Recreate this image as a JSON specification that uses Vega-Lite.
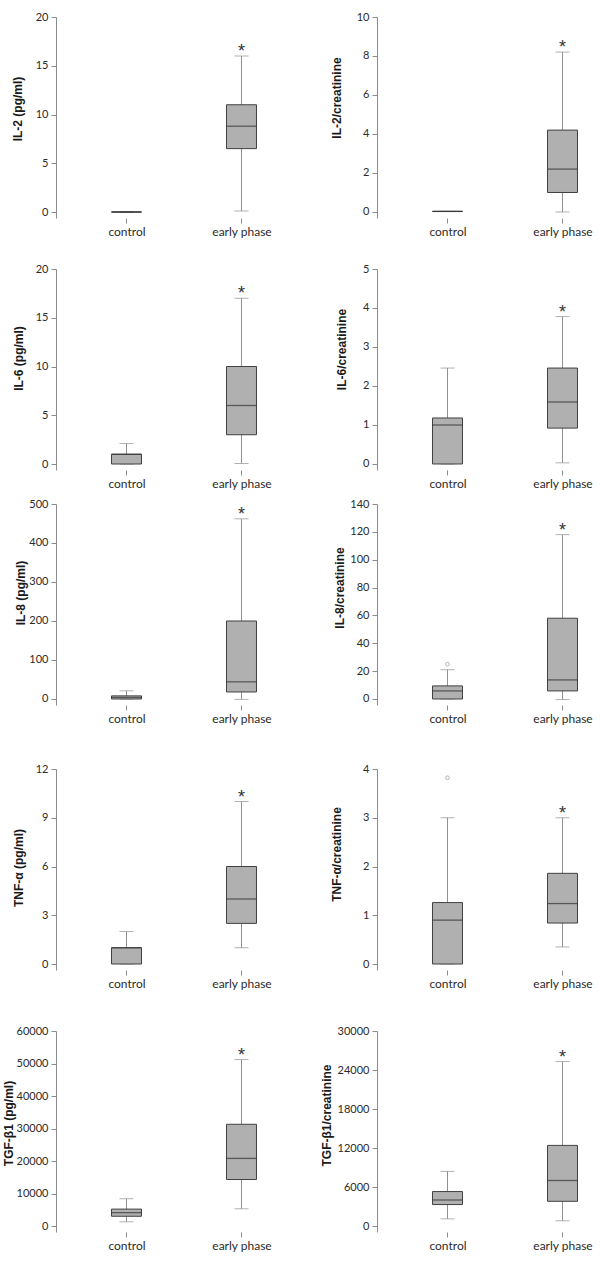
{
  "$schema": "https://vega.github.io/schema/vega-lite/v6.json",
  "background": "white",
  "padding": {"left": 2, "top": 5, "right": 5, "bottom": 2},
  "datasets": {
    "boxes": [
      {"panel": "IL-2 (pg/ml)", "group": "control", "min": 0, "q1": 0, "median": 0, "q3": 0, "max": 0},
      {"panel": "IL-2 (pg/ml)", "group": "early phase", "min": 0.1, "q1": 6.5, "median": 8.8, "q3": 11, "max": 16},
      {"panel": "IL-2/creatinine", "group": "control", "min": 0.03, "q1": 0.03, "median": 0.03, "q3": 0.03, "max": 0.03},
      {"panel": "IL-2/creatinine", "group": "early phase", "min": 0, "q1": 1.0, "median": 2.2, "q3": 4.2, "max": 8.2},
      {"panel": "IL-6 (pg/ml)", "group": "control", "min": 0, "q1": 0, "median": 1, "q3": 1, "max": 2.1},
      {"panel": "IL-6 (pg/ml)", "group": "early phase", "min": 0.05, "q1": 3, "median": 6, "q3": 10, "max": 17},
      {"panel": "IL-6/creatinine", "group": "control", "min": 0, "q1": 0, "median": 1.0, "q3": 1.18, "max": 2.46},
      {"panel": "IL-6/creatinine", "group": "early phase", "min": 0.03, "q1": 0.92, "median": 1.59, "q3": 2.46, "max": 3.78},
      {"panel": "IL-8 (pg/ml)", "group": "control", "min": 0, "q1": 0, "median": 4, "q3": 8, "max": 21},
      {"panel": "IL-8 (pg/ml)", "group": "early phase", "min": -1, "q1": 18, "median": 44, "q3": 200, "max": 462},
      {"panel": "IL-8/creatinine", "group": "control", "min": 0, "q1": 0, "median": 5.8, "q3": 9.4, "max": 21},
      {"panel": "IL-8/creatinine", "group": "early phase", "min": -0.4, "q1": 5.8, "median": 13.7, "q3": 58, "max": 118},
      {"panel": "TNF-α (pg/ml)", "group": "control", "min": 0, "q1": 0, "median": 1, "q3": 1, "max": 2},
      {"panel": "TNF-α (pg/ml)", "group": "early phase", "min": 1, "q1": 2.5, "median": 4, "q3": 6, "max": 10},
      {"panel": "TNF-α/creatinine", "group": "control", "min": 0, "q1": 0, "median": 0.9, "q3": 1.26, "max": 3},
      {"panel": "TNF-α/creatinine", "group": "early phase", "min": 0.35, "q1": 0.84, "median": 1.24, "q3": 1.86, "max": 3},
      {"panel": "TGF-β1 (pg/ml)", "group": "control", "min": 1300, "q1": 3000, "median": 4100, "q3": 5200, "max": 8400},
      {"panel": "TGF-β1 (pg/ml)", "group": "early phase", "min": 5300, "q1": 14300, "median": 20800, "q3": 31300, "max": 51200},
      {"panel": "TGF-β1/creatinine", "group": "control", "min": 1100, "q1": 3300, "median": 4000, "q3": 5300, "max": 8400},
      {"panel": "TGF-β1/creatinine", "group": "early phase", "min": 800, "q1": 3800, "median": 7000, "q3": 12400, "max": 25300}
    ],
    "outliers": [
      {"panel": "IL-8/creatinine", "group": "control", "value": 25},
      {"panel": "TNF-α/creatinine", "group": "control", "value": 3.82}
    ]
  },
  "columns": 2,
  "bounds": "flush",
  "spacing": {"row": 30, "column": 111},
  "concat": [
    {
      "width": 210, "height": 213,
      "data": {"name": "boxes"},
      "transform": [{"filter": "datum.panel === 'IL-2 (pg/ml)'"}],
      "encoding": {
        "x": {"field": "group", "type": "nominal", "title": null, "scale": {"type": "point", "domain": ["control", "early phase"], "padding": 0.413, "align": 0.742}},
        "y": {"field": "min", "type": "quantitative", "scale": {"domain": [-0.615, 20], "range": [213, 12], "nice": false, "zero": false}, "axis": {"title": "IL-2 (pg/ml)", "values": [0, 5, 10, 15, 20], "format": "d", "titleX": -39, "titleY": 103.5}}
      },
      "layer": [
        {"mark": {"type": "rule", "color": "#909090", "strokeWidth": 1}, "encoding": {"y2": {"field": "max"}}},
        {"mark": {"type": "tick", "color": "#909090", "size": 14, "thickness": 1}, "encoding": {}},
        {"mark": {"type": "tick", "color": "#909090", "size": 14, "thickness": 1}, "encoding": {"y": {"field": "max", "type": "quantitative"}}},
        {"mark": {"type": "bar", "size": 30, "fill": "#b0b0b0", "stroke": "#404040", "strokeWidth": 1}, "encoding": {"y": {"field": "q1", "type": "quantitative"}, "y2": {"field": "q3"}}},
        {"mark": {"type": "tick", "color": "#333333", "size": 30, "thickness": 1.3}, "encoding": {"y": {"field": "median", "type": "quantitative"}}},
        {"transform": [{"filter": "datum.group === 'early phase'"}], "mark": {"type": "text", "text": "*", "font": "Liberation Sans", "fontSize": 18, "dy": 1, "color": "#333333", "baseline": "alphabetic"}, "encoding": {"y": {"field": "max", "type": "quantitative"}}}
      ]
    },
    {
      "width": 210, "height": 213,
      "data": {"name": "boxes"},
      "transform": [{"filter": "datum.panel === 'IL-2/creatinine'"}],
      "encoding": {
        "x": {"field": "group", "type": "nominal", "title": null, "scale": {"type": "point", "domain": ["control", "early phase"], "padding": 0.413, "align": 0.742}},
        "y": {"field": "min", "type": "quantitative", "scale": {"domain": [-0.308, 10], "range": [213, 12], "nice": false, "zero": false}, "axis": {"title": "IL-2/creatinine", "values": [0, 2, 4, 6, 8, 10], "format": "d", "titleX": -40.5, "titleY": 92.5}}
      },
      "layer": [
        {"mark": {"type": "rule", "color": "#909090", "strokeWidth": 1}, "encoding": {"y2": {"field": "max"}}},
        {"mark": {"type": "tick", "color": "#909090", "size": 14, "thickness": 1}, "encoding": {}},
        {"mark": {"type": "tick", "color": "#909090", "size": 14, "thickness": 1}, "encoding": {"y": {"field": "max", "type": "quantitative"}}},
        {"mark": {"type": "bar", "size": 30, "fill": "#b0b0b0", "stroke": "#404040", "strokeWidth": 1}, "encoding": {"y": {"field": "q1", "type": "quantitative"}, "y2": {"field": "q3"}}},
        {"mark": {"type": "tick", "color": "#333333", "size": 30, "thickness": 1.3}, "encoding": {"y": {"field": "median", "type": "quantitative"}}},
        {"transform": [{"filter": "datum.group === 'early phase'"}], "mark": {"type": "text", "text": "*", "font": "Liberation Sans", "fontSize": 18, "dy": 1, "color": "#333333", "baseline": "alphabetic"}, "encoding": {"y": {"field": "max", "type": "quantitative"}}}
      ]
    },
    {
      "width": 210, "height": 222,
      "data": {"name": "boxes"},
      "transform": [{"filter": "datum.panel === 'IL-6 (pg/ml)'"}],
      "encoding": {
        "x": {"field": "group", "type": "nominal", "title": null, "scale": {"type": "point", "domain": ["control", "early phase"], "padding": 0.413, "align": 0.742}},
        "y": {"field": "min", "type": "quantitative", "scale": {"domain": [-0.615, 20], "range": [222, 21], "nice": false, "zero": false}, "axis": {"title": "IL-6 (pg/ml)", "values": [0, 5, 10, 15, 20], "format": "d", "titleX": -38, "titleY": 110}}
      },
      "layer": [
        {"mark": {"type": "rule", "color": "#909090", "strokeWidth": 1}, "encoding": {"y2": {"field": "max"}}},
        {"mark": {"type": "tick", "color": "#909090", "size": 14, "thickness": 1}, "encoding": {}},
        {"mark": {"type": "tick", "color": "#909090", "size": 14, "thickness": 1}, "encoding": {"y": {"field": "max", "type": "quantitative"}}},
        {"mark": {"type": "bar", "size": 30, "fill": "#b0b0b0", "stroke": "#404040", "strokeWidth": 1}, "encoding": {"y": {"field": "q1", "type": "quantitative"}, "y2": {"field": "q3"}}},
        {"mark": {"type": "tick", "color": "#333333", "size": 30, "thickness": 1.3}, "encoding": {"y": {"field": "median", "type": "quantitative"}}},
        {"transform": [{"filter": "datum.group === 'early phase'"}], "mark": {"type": "text", "text": "*", "font": "Liberation Sans", "fontSize": 18, "dy": 1, "color": "#333333", "baseline": "alphabetic"}, "encoding": {"y": {"field": "max", "type": "quantitative"}}}
      ]
    },
    {
      "width": 210, "height": 222,
      "data": {"name": "boxes"},
      "transform": [{"filter": "datum.panel === 'IL-6/creatinine'"}],
      "encoding": {
        "x": {"field": "group", "type": "nominal", "title": null, "scale": {"type": "point", "domain": ["control", "early phase"], "padding": 0.413, "align": 0.742}},
        "y": {"field": "min", "type": "quantitative", "scale": {"domain": [-0.154, 5], "range": [222, 21], "nice": false, "zero": false}, "axis": {"title": "IL-6/creatinine", "values": [0, 1, 2, 3, 4, 5], "format": "d", "titleX": -36, "titleY": 101}}
      },
      "layer": [
        {"mark": {"type": "rule", "color": "#909090", "strokeWidth": 1}, "encoding": {"y2": {"field": "max"}}},
        {"mark": {"type": "tick", "color": "#909090", "size": 14, "thickness": 1}, "encoding": {}},
        {"mark": {"type": "tick", "color": "#909090", "size": 14, "thickness": 1}, "encoding": {"y": {"field": "max", "type": "quantitative"}}},
        {"mark": {"type": "bar", "size": 30, "fill": "#b0b0b0", "stroke": "#404040", "strokeWidth": 1}, "encoding": {"y": {"field": "q1", "type": "quantitative"}, "y2": {"field": "q3"}}},
        {"mark": {"type": "tick", "color": "#333333", "size": 30, "thickness": 1.3}, "encoding": {"y": {"field": "median", "type": "quantitative"}}},
        {"transform": [{"filter": "datum.group === 'early phase'"}], "mark": {"type": "text", "text": "*", "font": "Liberation Sans", "fontSize": 18, "dy": 1, "color": "#333333", "baseline": "alphabetic"}, "encoding": {"y": {"field": "max", "type": "quantitative"}}}
      ]
    },
    {
      "width": 210, "height": 205,
      "data": {"name": "boxes"},
      "transform": [{"filter": "datum.panel === 'IL-8 (pg/ml)'"}],
      "encoding": {
        "x": {"field": "group", "type": "nominal", "title": null, "scale": {"type": "point", "domain": ["control", "early phase"], "padding": 0.413, "align": 0.742}},
        "y": {"field": "min", "type": "quantitative", "scale": {"domain": [-15.4, 500], "range": [205, 4], "nice": false, "zero": false}, "axis": {"title": "IL-8 (pg/ml)", "values": [0, 100, 200, 300, 400, 500], "format": "d", "titleX": -36, "titleY": 92.5}}
      },
      "layer": [
        {"mark": {"type": "rule", "color": "#909090", "strokeWidth": 1}, "encoding": {"y2": {"field": "max"}}},
        {"mark": {"type": "tick", "color": "#909090", "size": 14, "thickness": 1}, "encoding": {}},
        {"mark": {"type": "tick", "color": "#909090", "size": 14, "thickness": 1}, "encoding": {"y": {"field": "max", "type": "quantitative"}}},
        {"mark": {"type": "bar", "size": 30, "fill": "#b0b0b0", "stroke": "#404040", "strokeWidth": 1}, "encoding": {"y": {"field": "q1", "type": "quantitative"}, "y2": {"field": "q3"}}},
        {"mark": {"type": "tick", "color": "#333333", "size": 30, "thickness": 1.3}, "encoding": {"y": {"field": "median", "type": "quantitative"}}},
        {"transform": [{"filter": "datum.group === 'early phase'"}], "mark": {"type": "text", "text": "*", "font": "Liberation Sans", "fontSize": 18, "dy": 1, "color": "#333333", "baseline": "alphabetic"}, "encoding": {"y": {"field": "max", "type": "quantitative"}}}
      ]
    },
    {
      "width": 210, "height": 205,
      "data": {"name": "boxes"},
      "transform": [{"filter": "datum.panel === 'IL-8/creatinine'"}],
      "encoding": {
        "x": {"field": "group", "type": "nominal", "title": null, "scale": {"type": "point", "domain": ["control", "early phase"], "padding": 0.413, "align": 0.742}},
        "y": {"field": "min", "type": "quantitative", "scale": {"domain": [-4.31, 140], "range": [205, 4], "nice": false, "zero": false}, "axis": {"title": "IL-8/creatinine", "values": [0, 20, 40, 60, 80, 100, 120, 140], "format": "d", "titleX": -38, "titleY": 87.5}}
      },
      "layer": [
        {"mark": {"type": "rule", "color": "#909090", "strokeWidth": 1}, "encoding": {"y2": {"field": "max"}}},
        {"mark": {"type": "tick", "color": "#909090", "size": 14, "thickness": 1}, "encoding": {}},
        {"mark": {"type": "tick", "color": "#909090", "size": 14, "thickness": 1}, "encoding": {"y": {"field": "max", "type": "quantitative"}}},
        {"mark": {"type": "bar", "size": 30, "fill": "#b0b0b0", "stroke": "#404040", "strokeWidth": 1}, "encoding": {"y": {"field": "q1", "type": "quantitative"}, "y2": {"field": "q3"}}},
        {"mark": {"type": "tick", "color": "#333333", "size": 30, "thickness": 1.3}, "encoding": {"y": {"field": "median", "type": "quantitative"}}},
        {"transform": [{"filter": "datum.group === 'early phase'"}], "mark": {"type": "text", "text": "*", "font": "Liberation Sans", "fontSize": 18, "dy": 1, "color": "#333333", "baseline": "alphabetic"}, "encoding": {"y": {"field": "max", "type": "quantitative"}}},
        {"data": {"name": "outliers"}, "transform": [{"filter": "datum.panel === 'IL-8/creatinine'"}], "mark": {"type": "point", "shape": "circle", "size": 14, "filled": false, "stroke": "#808080", "strokeWidth": 0.8}, "encoding": {"y": {"field": "value", "type": "quantitative"}}}
      ]
    },
    {
      "width": 210, "height": 235,
      "data": {"name": "boxes"},
      "transform": [{"filter": "datum.panel === 'TNF-α (pg/ml)'"}],
      "encoding": {
        "x": {"field": "group", "type": "nominal", "title": null, "scale": {"type": "point", "domain": ["control", "early phase"], "padding": 0.413, "align": 0.742}},
        "y": {"field": "min", "type": "quantitative", "scale": {"domain": [-0.369, 12], "range": [235, 34], "nice": false, "zero": false}, "axis": {"title": "TNF-α (pg/ml)", "values": [0, 3, 6, 9, 12], "format": "d", "titleX": -38, "titleY": 132.5}}
      },
      "layer": [
        {"mark": {"type": "rule", "color": "#909090", "strokeWidth": 1}, "encoding": {"y2": {"field": "max"}}},
        {"mark": {"type": "tick", "color": "#909090", "size": 14, "thickness": 1}, "encoding": {}},
        {"mark": {"type": "tick", "color": "#909090", "size": 14, "thickness": 1}, "encoding": {"y": {"field": "max", "type": "quantitative"}}},
        {"mark": {"type": "bar", "size": 30, "fill": "#b0b0b0", "stroke": "#404040", "strokeWidth": 1}, "encoding": {"y": {"field": "q1", "type": "quantitative"}, "y2": {"field": "q3"}}},
        {"mark": {"type": "tick", "color": "#333333", "size": 30, "thickness": 1.3}, "encoding": {"y": {"field": "median", "type": "quantitative"}}},
        {"transform": [{"filter": "datum.group === 'early phase'"}], "mark": {"type": "text", "text": "*", "font": "Liberation Sans", "fontSize": 18, "dy": 1, "color": "#333333", "baseline": "alphabetic"}, "encoding": {"y": {"field": "max", "type": "quantitative"}}}
      ]
    },
    {
      "width": 210, "height": 235,
      "data": {"name": "boxes"},
      "transform": [{"filter": "datum.panel === 'TNF-α/creatinine'"}],
      "encoding": {
        "x": {"field": "group", "type": "nominal", "title": null, "scale": {"type": "point", "domain": ["control", "early phase"], "padding": 0.413, "align": 0.742}},
        "y": {"field": "min", "type": "quantitative", "scale": {"domain": [-0.123, 4], "range": [235, 34], "nice": false, "zero": false}, "axis": {"title": "TNF-α/creatinine", "values": [0, 1, 2, 3, 4], "format": "d", "titleX": -41, "titleY": 119}}
      },
      "layer": [
        {"mark": {"type": "rule", "color": "#909090", "strokeWidth": 1}, "encoding": {"y2": {"field": "max"}}},
        {"mark": {"type": "tick", "color": "#909090", "size": 14, "thickness": 1}, "encoding": {}},
        {"mark": {"type": "tick", "color": "#909090", "size": 14, "thickness": 1}, "encoding": {"y": {"field": "max", "type": "quantitative"}}},
        {"mark": {"type": "bar", "size": 30, "fill": "#b0b0b0", "stroke": "#404040", "strokeWidth": 1}, "encoding": {"y": {"field": "q1", "type": "quantitative"}, "y2": {"field": "q3"}}},
        {"mark": {"type": "tick", "color": "#333333", "size": 30, "thickness": 1.3}, "encoding": {"y": {"field": "median", "type": "quantitative"}}},
        {"transform": [{"filter": "datum.group === 'early phase'"}], "mark": {"type": "text", "text": "*", "font": "Liberation Sans", "fontSize": 18, "dy": 1, "color": "#333333", "baseline": "alphabetic"}, "encoding": {"y": {"field": "max", "type": "quantitative"}}},
        {"data": {"name": "outliers"}, "transform": [{"filter": "datum.panel === 'TNF-α/creatinine'"}], "mark": {"type": "point", "shape": "circle", "size": 14, "filled": false, "stroke": "#808080", "strokeWidth": 0.8}, "encoding": {"y": {"field": "value", "type": "quantitative"}}}
      ]
    },
    {
      "width": 210, "height": 232,
      "data": {"name": "boxes"},
      "transform": [{"filter": "datum.panel === 'TGF-β1 (pg/ml)'"}],
      "encoding": {
        "x": {"field": "group", "type": "nominal", "title": null, "scale": {"type": "point", "domain": ["control", "early phase"], "padding": 0.413, "align": 0.742}},
        "y": {"field": "min", "type": "quantitative", "scale": {"domain": [-1846, 60000], "range": [232, 31], "nice": false, "zero": false}, "axis": {"title": "TGF-β1 (pg/ml)", "values": [0, 10000, 20000, 30000, 40000, 50000, 60000], "format": "d", "titleX": -48, "titleY": 123}}
      },
      "layer": [
        {"mark": {"type": "rule", "color": "#909090", "strokeWidth": 1}, "encoding": {"y2": {"field": "max"}}},
        {"mark": {"type": "tick", "color": "#909090", "size": 14, "thickness": 1}, "encoding": {}},
        {"mark": {"type": "tick", "color": "#909090", "size": 14, "thickness": 1}, "encoding": {"y": {"field": "max", "type": "quantitative"}}},
        {"mark": {"type": "bar", "size": 30, "fill": "#b0b0b0", "stroke": "#404040", "strokeWidth": 1}, "encoding": {"y": {"field": "q1", "type": "quantitative"}, "y2": {"field": "q3"}}},
        {"mark": {"type": "tick", "color": "#333333", "size": 30, "thickness": 1.3}, "encoding": {"y": {"field": "median", "type": "quantitative"}}},
        {"transform": [{"filter": "datum.group === 'early phase'"}], "mark": {"type": "text", "text": "*", "font": "Liberation Sans", "fontSize": 18, "dy": 1, "color": "#333333", "baseline": "alphabetic"}, "encoding": {"y": {"field": "max", "type": "quantitative"}}}
      ]
    },
    {
      "width": 210, "height": 232,
      "data": {"name": "boxes"},
      "transform": [{"filter": "datum.panel === 'TGF-β1/creatinine'"}],
      "encoding": {
        "x": {"field": "group", "type": "nominal", "title": null, "scale": {"type": "point", "domain": ["control", "early phase"], "padding": 0.413, "align": 0.742}},
        "y": {"field": "min", "type": "quantitative", "scale": {"domain": [-923, 30000], "range": [232, 31], "nice": false, "zero": false}, "axis": {"title": "TGF-β1/creatinine", "values": [0, 6000, 12000, 18000, 24000, 30000], "format": "d", "titleX": -50.5, "titleY": 115}}
      },
      "layer": [
        {"mark": {"type": "rule", "color": "#909090", "strokeWidth": 1}, "encoding": {"y2": {"field": "max"}}},
        {"mark": {"type": "tick", "color": "#909090", "size": 14, "thickness": 1}, "encoding": {}},
        {"mark": {"type": "tick", "color": "#909090", "size": 14, "thickness": 1}, "encoding": {"y": {"field": "max", "type": "quantitative"}}},
        {"mark": {"type": "bar", "size": 30, "fill": "#b0b0b0", "stroke": "#404040", "strokeWidth": 1}, "encoding": {"y": {"field": "q1", "type": "quantitative"}, "y2": {"field": "q3"}}},
        {"mark": {"type": "tick", "color": "#333333", "size": 30, "thickness": 1.3}, "encoding": {"y": {"field": "median", "type": "quantitative"}}},
        {"transform": [{"filter": "datum.group === 'early phase'"}], "mark": {"type": "text", "text": "*", "font": "Liberation Sans", "fontSize": 18, "dy": 1, "color": "#333333", "baseline": "alphabetic"}, "encoding": {"y": {"field": "max", "type": "quantitative"}}}
      ]
    }
  ],
  "config": {
    "view": {"stroke": null},
    "axis": {"grid": false, "domainColor": "#8c8c8c", "tickColor": "#8c8c8c", "tickSize": 5, "labelColor": "#2b2b2b", "labelFont": "Lato", "labelFontSize": 11, "labelPadding": 3, "titleFont": "Liberation Sans", "titleFontSize": 12, "titleFontWeight": "bold", "titleColor": "#1a1a1a"},
    "axisX": {"domain": false, "labelFontSize": 12, "labelAngle": 0, "labelPadding": 3},
    "axisY": {"titleAngle": 270, "titleAlign": "center", "titleBaseline": "middle"}
  }
}
